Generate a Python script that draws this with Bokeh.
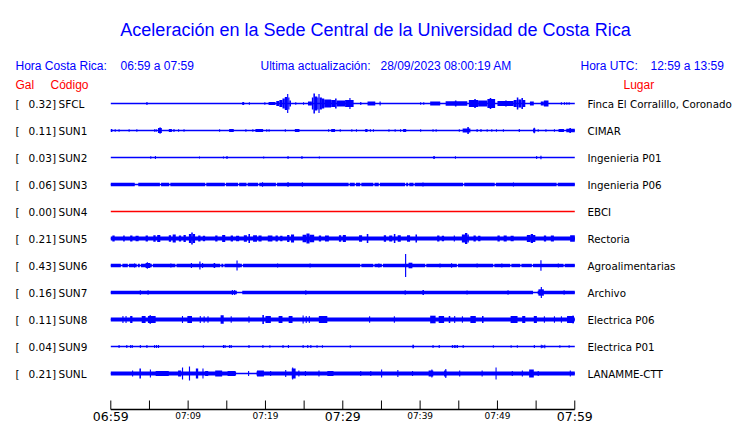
from bokeh.plotting import figure
from bokeh.models import Range1d
from bokeh.core.properties import value
from bokeh.embed import file_html
from bokeh.resources import INLINE

# ---------------- data ----------------
stations = ["SFCL", "SUN1", "SUN2", "SUN3", "SUN4", "SUN5", "SUN6", "SUN7", "SUN8", "SUN9", "SUNL"]
peak_gal = [0.32, 0.11, 0.03, 0.06, 0.00, 0.21, 0.43, 0.16, 0.11, 0.04, 0.21]
places = ["Finca El Corralillo, Coronado", "CIMAR", "Ingenieria P01", "Ingenieria P06", "EBCI",
          "Rectoria", "Agroalimentarias", "Archivo", "Electrica P06", "Electrica P01", "LANAMME-CTT"]
# background envelope half-amplitude of each trace (relative units)
base_half = [0.0, 0.0, 0.0, 1.7, 0.0, 2.0, 1.7, 1.7, 2.0, 0.0, 2.0]
trace_active = [True, True, True, True, False, True, True, True, True, True, True]

# events: (start minute, end minute, envelope half-amplitude) -- minutes after 06:59
ev_SFCL = [(4.6, 4.75, 1.5), (17.0, 17.25, 1.5), (17.85, 17.95, 1.2), (19.85, 19.95, 1.2), (20.4, 21.3, 1.5),
           (21.4, 21.8, 2.5), (21.8, 22.2, 3.5), (22.2, 22.5, 5), (22.5, 22.8, 6.5), (22.8, 22.95, 9.5),
           (22.95, 23.1, 6), (23.1, 23.3, 3), (23.85, 23.95, 1.2), (24.85, 24.95, 1.2), (25.5, 26.0, 2),
           (26.0, 26.2, 6), (26.2, 26.4, 10), (26.4, 26.7, 7), (26.7, 26.85, 6), (26.85, 27.0, 9.5),
           (27.0, 27.3, 6), (27.3, 27.6, 5), (27.6, 28.5, 4), (28.5, 29.0, 3.5), (29.0, 29.2, 5),
           (29.2, 30.3, 3), (30.3, 31.4, 3.5), (30.85, 31.0, 5.5), (32.25, 32.4, 1.5), (33.2, 34.2, 2),
           (34.75, 34.9, 2), (40.0, 40.1, 1.2), (40.4, 40.5, 1.2), (41.3, 42.6, 2), (43.3, 46.1, 2.2),
           (44.5, 44.7, 3), (46.3, 47.5, 3.5), (47.0, 47.2, 4.5), (47.5, 48.7, 3), (48.7, 49.7, 4.5),
           (49.0, 49.2, 5.5), (50.0, 52.1, 2.5), (51.0, 51.2, 3), (52.1, 52.5, 3.5), (52.5, 52.7, 6),
           (52.7, 53.1, 4), (53.1, 53.3, 5.5), (53.3, 53.6, 3.5), (54.2, 54.7, 2), (55.6, 56.0, 2),
           (56.0, 56.6, 3), (58.2, 58.3, 1.2), (58.6, 58.7, 1.2), (58.9, 59.0, 1.2), (59.2, 59.3, 1.2)]
ev_SUN1 = [(0.0, 0.2, 1.5), (0.5, 0.6, 1.3), (1.0, 1.1, 1.3), (2.3, 2.4, 1.2), (3.3, 3.4, 1.2), (5.6, 5.7, 1.3),
           (5.8, 5.9, 1.3), (6.1, 6.6, 2.5), (6.3, 6.45, 3.2), (7.5, 7.9, 1.5), (8.1, 8.2, 1.5), (8.7, 8.8, 1.3),
           (9.4, 9.5, 1.3), (14.0, 14.1, 1.2), (15.3, 15.9, 1.6), (17.4, 17.5, 1.2), (18.3, 18.4, 1.2),
           (18.7, 19.7, 1.6), (20.1, 20.2, 1.3), (20.4, 20.5, 1.3), (22.5, 22.6, 1.3), (23.8, 24.4, 1.6),
           (28.1, 28.2, 1.2), (28.5, 29.0, 1.6), (29.6, 29.7, 1.2), (31.1, 31.2, 1.2), (31.7, 31.8, 1.2),
           (32.9, 33.2, 1.5), (33.5, 33.6, 1.3), (33.9, 34.0, 1.3), (35.9, 36.0, 1.2), (36.7, 36.8, 1.2),
           (37.4, 37.5, 1.3), (37.8, 38.2, 1.5), (40.0, 40.1, 1.3), (41.6, 41.7, 1.2), (42.0, 42.1, 1.2),
           (45.0, 45.1, 1.3), (45.5, 46.5, 2), (46.1, 46.3, 3.5), (47.3, 47.4, 1.5), (47.8, 47.9, 1.5),
           (48.6, 48.7, 1.3), (49.2, 49.3, 1.3), (49.8, 49.9, 1.3), (50.7, 50.8, 1.3), (52.75, 52.9, 1.6),
           (54.6, 54.9, 2), (54.7, 54.8, 2.8), (55.2, 55.3, 1.3), (56.2, 56.3, 1.3), (57.3, 57.4, 1.3),
           (57.9, 58.6, 1.5), (58.9, 60.0, 1.7), (59.3, 59.5, 2.5)]
ev_SUN2 = [(5.1, 5.2, 1.2), (5.7, 5.8, 1.6), (11.4, 11.5, 1.1), (14.5, 14.6, 1.1), (14.95, 15.1, 1.6),
           (19.7, 19.8, 1.1), (22.85, 22.95, 1.6), (24.65, 24.75, 1.6), (26.9, 27.0, 1.1), (41.7, 41.9, 1.6),
           (44.5, 44.6, 1.2), (55.0, 55.1, 1.5), (55.55, 55.7, 1.8)]
ev_SUN3 = [(19.55, 19.65, 2.3), (22.85, 22.95, 2.4), (24.7, 24.8, 2.2), (40.3, 40.4, 2.1), (52.0, 52.1, 2.1)]
ev_SUN4 = []
ev_SUN5 = [(0.2, 0.5, 3), (1.6, 1.8, 3), (2.5, 2.8, 3), (3.2, 3.6, 2.8), (4.5, 4.8, 3), (5.5, 5.8, 3.2),
           (6.0, 6.4, 3.5), (7.5, 7.8, 3.2), (8.0, 8.4, 4), (8.8, 9.1, 3), (9.4, 9.7, 3.5), (10.1, 10.4, 4.5),
           (10.4, 10.6, 6), (10.6, 10.9, 4.5), (11.3, 11.6, 3), (11.9, 12.2, 2.8), (13.5, 13.8, 3),
           (14.4, 14.8, 3.5), (15.5, 15.8, 3), (16.2, 16.6, 2.8), (17.2, 17.6, 3.2), (17.8, 18.0, 4.5),
           (18.4, 18.9, 3.2), (19.1, 19.5, 3), (20.3, 20.9, 3), (21.3, 21.6, 3), (21.9, 22.2, 2.8),
           (22.8, 23.1, 3.5), (23.3, 23.7, 4), (24.8, 25.3, 3.8), (25.3, 25.7, 5), (25.7, 26.3, 3.8),
           (26.9, 27.2, 3), (27.7, 28.2, 3), (29.5, 29.8, 3.2), (30.0, 30.4, 3.5), (32.1, 32.5, 3.2),
           (33.1, 33.3, 4.5), (35.3, 35.6, 3.2), (36.0, 36.4, 3), (36.6, 36.8, 4.5), (37.1, 37.5, 3.2),
           (38.3, 38.7, 3.2), (39.4, 39.6, 4), (42.2, 42.5, 3), (42.8, 43.1, 2.8), (44.35, 44.5, 3),
           (45.4, 45.8, 4), (45.8, 46.1, 5.5), (46.1, 46.3, 4), (46.9, 47.2, 3), (47.5, 47.8, 2.8),
           (50.0, 50.3, 3), (50.8, 51.2, 3), (51.7, 52.1, 2.8), (53.8, 54.3, 3.5), (54.3, 54.6, 4.5),
           (54.6, 54.9, 3.5), (56.0, 56.3, 3), (56.9, 57.3, 3), (59.4, 60.0, 3.2)]
ev_SUN6 = [(3.0, 3.1, 2), (4.5, 5.1, 2.5), (4.65, 4.8, 3.2), (7.7, 7.8, 2), (10.35, 10.5, 2.5),
           (11.45, 11.6, 4), (11.8, 11.9, 2.5), (13.3, 13.5, 2.5), (16.25, 16.4, 5), (16.5, 16.6, 2),
           (21.5, 21.6, 2), (25.7, 25.8, 2), (34.6, 34.7, 2), (38.05, 38.2, 11.5), (38.5, 39.0, 2.8),
           (42.5, 42.6, 2), (44.0, 44.1, 2.2), (47.3, 47.4, 2), (50.5, 50.6, 2), (55.55, 55.7, 5.3),
           (57.8, 57.9, 2)]
ev_SUN7 = [(3.75, 3.85, 2.3), (4.75, 4.85, 2.3), (15.65, 15.75, 2.6), (15.95, 16.05, 2.4), (25.15, 25.25, 2.2),
           (38.0, 38.1, 2.3), (40.3, 40.5, 2.6), (46.0, 46.1, 2.1), (51.3, 51.4, 2.2), (55.3, 56.0, 3.2),
           (55.6, 55.75, 5.5), (58.55, 58.65, 2.2)]
ev_SUN8 = [(1.5, 1.6, 3.5), (1.9, 2.0, 3.5), (2.5, 2.8, 3.5), (4.0, 4.5, 3.5), (4.8, 5.8, 3.5), (5.0, 5.2, 4.2),
           (9.2, 9.3, 3.5), (9.9, 10.5, 3.5), (11.5, 11.6, 3.5), (12.0, 12.1, 3.2), (12.5, 12.6, 3.2),
           (14.2, 14.6, 4.2), (15.5, 15.6, 3.2), (17.8, 17.9, 3.2), (19.6, 19.8, 4.5), (20.0, 20.7, 3.5),
           (21.7, 22.2, 3.5), (23.0, 23.5, 3.5), (24.8, 24.9, 4), (25.2, 25.3, 3.5), (25.6, 25.7, 3.5),
           (26.9, 28.0, 3.5), (33.4, 33.5, 3.2), (36.6, 36.7, 3.2), (41.3, 42.0, 3.8), (42.4, 43.1, 3.5),
           (43.7, 43.9, 3.5), (44.4, 44.5, 3.5), (45.4, 45.5, 3.2), (46.5, 47.2, 3.5), (48.0, 48.2, 3.5),
           (51.7, 52.6, 3.5), (53.2, 53.6, 3.5), (54.7, 55.1, 3.5), (56.0, 56.1, 3.2), (57.3, 57.4, 3.2),
           (58.2, 58.3, 3.2), (59.0, 59.9, 3.5), (59.7, 59.85, 4)]
ev_SUN9 = [(1.0, 1.1, 1.5), (2.0, 2.1, 1.5), (2.5, 2.6, 1.5), (2.7, 2.8, 1.5), (3.75, 3.85, 1.5), (4.6, 4.7, 1.5),
           (5.6, 5.7, 1.5), (5.85, 5.95, 1.5), (6.1, 6.2, 1.5), (11.9, 12.0, 1.3), (14.5, 14.6, 1.5),
           (14.7, 14.8, 1.5), (15.3, 15.4, 1.5), (15.5, 15.6, 1.5), (17.8, 17.9, 1.4), (19.6, 19.7, 1.4),
           (20.5, 20.6, 1.3), (22.2, 22.3, 1.5), (22.9, 23.0, 1.5), (24.8, 24.9, 1.5), (25.4, 25.5, 1.5),
           (25.8, 25.9, 1.4), (26.6, 26.7, 1.3), (27.3, 27.4, 1.3), (30.9, 31.0, 1.3), (39.0, 39.2, 1.8),
           (41.6, 41.7, 1.5), (42.4, 42.5, 1.5), (44.1, 44.2, 1.4), (44.35, 44.45, 1.5), (44.55, 44.65, 1.4),
           (44.75, 44.85, 1.5), (45.5, 45.6, 1.4), (49.4, 49.5, 1.3), (51.7, 51.8, 1.3), (52.5, 52.6, 1.3),
           (54.7, 54.8, 1.4), (55.6, 55.7, 1.8), (55.8, 55.9, 1.5), (56.05, 56.15, 1.8), (58.0, 58.1, 1.3),
           (59.2, 59.3, 1.3)]
ev_SUNL = [(2.75, 2.85, 3), (3.7, 3.9, 5), (5.05, 5.15, 4), (5.8, 7.5, 2.5), (8.7, 9.1, 3), (9.2, 9.35, 6),
           (10.1, 10.25, 7), (11.0, 11.3, 5), (11.85, 11.95, 5), (12.2, 12.6, 2.5), (13.5, 14.4, 3),
           (15.1, 16.1, 2.5), (17.75, 17.85, 2.5), (18.9, 19.8, 3), (20.6, 20.7, 2.5), (22.55, 22.65, 3.5),
           (23.4, 23.9, 5), (23.45, 23.55, 6), (24.25, 24.35, 3), (25.1, 25.2, 2.5), (26.85, 26.95, 3),
           (28.0, 28.8, 2.5), (32.25, 32.35, 2.5), (33.55, 33.65, 2.5), (34.95, 35.05, 4), (37.05, 37.15, 3.5),
           (38.95, 39.05, 2.5), (41.1, 41.7, 3), (41.45, 41.55, 4), (43.1, 43.4, 3), (43.25, 43.35, 4.5),
           (45.05, 45.15, 3), (47.95, 48.05, 3), (49.75, 49.85, 6), (51.85, 51.95, 2.5), (53.15, 53.25, 3),
           (54.1, 54.7, 4), (55.2, 55.3, 2.5), (59.35, 59.45, 3)]
events = [ev_SFCL, ev_SUN1, ev_SUN2, ev_SUN3, ev_SUN4, ev_SUN5, ev_SUN6, ev_SUN7, ev_SUN8, ev_SUN9, ev_SUNL]

# stretches (minutes) where the background envelope drops to a thin line
gap_SUN3 = [(3.1, 3.55), (6.35, 6.5), (7.55, 7.7), (12.2, 12.35), (14.75, 14.9), (16.45, 16.6), (17.55, 17.7),
            (19.05, 19.2), (21.35, 21.5), (30.75, 30.9), (31.55, 31.7), (32.25, 32.4), (33.95, 34.1),
            (34.65, 34.8), (38.05, 38.2), (38.45, 38.6), (39.15, 39.3), (45.55, 45.7), (49.65, 49.8),
            (57.65, 57.8)]
gap_SUN6 = [(1.3, 1.5), (2.2, 2.35), (3.35, 3.5), (3.75, 3.9), (5.3, 5.45), (8.35, 8.5), (14.15, 14.3),
            (14.55, 14.7), (16.95, 17.1), (32.25, 32.4), (33.95, 34.1), (35.05, 35.2), (40.65, 40.8),
            (44.75, 44.9), (49.45, 49.6), (51.65, 51.8), (52.95, 53.1), (54.45, 54.6), (58.55, 58.7)]
gap_SUN7 = [(16.3, 17.0), (54.6, 55.2)]
gap_SUNL = [(16.2, 18.85)]
gaps = [[], [], [], gap_SUN3, [], [], gap_SUN6, gap_SUN7, [], [], gap_SUNL]

window_minutes = [0, 60]
tick_minutes = [0, 5, 10, 15, 20, 25, 30, 35, 40, 45, 50, 55, 60]
label_minutes = [0, 10, 20, 30, 40, 50, 60]
tick_labels = ["06:59", "07:09", "07:19", "07:29", "07:39", "07:49", "07:59"]
label_major = [True, False, False, True, False, False, True]

# ---------------- layout ----------------
W, H = 740, 423
X0_PAGE, PX_PER_MIN = 110.3, 7.733
Y0_PAGE, PX_PER_ROW = 103.0, 27.0


def mx(xpage):
    return (xpage - X0_PAGE) / PX_PER_MIN


def ry(ypage):
    return (ypage - Y0_PAGE) / PX_PER_ROW


AMP = 1.0 / PX_PER_ROW
BLUE = "#0000ff"
RED = "#ff0000"

p = figure(width=W, height=H, output_backend="svg", toolbar_location=None,
           x_range=Range1d(mx(0), mx(W)), y_range=Range1d(ry(H), ry(0)),
           x_axis_type=None, y_axis_type=None, min_border=0,
           min_border_left=0, min_border_right=0, min_border_top=0, min_border_bottom=0)
p.grid.visible = False
p.outline_line_color = None
p.background_fill_color = "white"
p.border_fill_color = "white"

t0, t1 = window_minutes
rows = list(range(len(stations)))

# baseline of each trace
p.segment(x0=[t0] * len(rows), x1=[t1] * len(rows), y0=rows, y1=rows,
          line_color=[BLUE if a else RED for a in trace_active], line_width=1.3)

# background envelope (minus gaps) and events
L, R, T, B = [], [], [], []
for r in rows:
    bh = base_half[r]
    if bh > 0:
        cur = t0
        for g0, g1 in sorted(gaps[r]):
            if g0 > cur:
                L.append(cur); R.append(g0); T.append(r - bh * AMP); B.append(r + bh * AMP)
            cur = max(cur, g1)
        if cur < t1:
            L.append(cur); R.append(t1); T.append(r - bh * AMP); B.append(r + bh * AMP)
    for s, e, a in events[r]:
        e = max(e, s + 0.14)
        L.append(s); R.append(min(e, t1)); T.append(r - a * AMP); B.append(r + a * AMP)
p.quad(left=L, right=R, top=T, bottom=B, fill_color=BLUE, line_color=None)

# row labels
FONT_ROW = value("DejaVu Sans")
n = len(rows)
p.text(x=[mx(15)] * n, y=rows, text=["["] * n, text_font=FONT_ROW,
       text_font_size="10.5px", text_color="black", text_baseline="middle", text_align="left")
p.text(x=[mx(55.5)] * n, y=rows, text=["%.2f]" % g for g in peak_gal], text_font=FONT_ROW,
       text_font_size="10.5px", text_color="black", text_baseline="middle", text_align="right")
p.text(x=[mx(58)] * n, y=rows, text=stations, text_font=FONT_ROW,
       text_font_size="10.5px", text_color="black", text_baseline="middle", text_align="left")
p.text(x=[mx(587)] * n, y=rows, text=places, text_font=FONT_ROW,
       text_font_size="10.3px", text_color="black", text_baseline="middle", text_align="left")

# title and header
p.text(x=[mx(375)], y=[ry(29.5)], text=["Aceleración en la Sede Central de la Universidad de Costa Rica"],
       text_font=value("Liberation Sans"), text_font_size="18px", text_color=BLUE,
       text_align="center", text_baseline="alphabetic")
hdr_x = [15, 120, 260, 380, 580, 650]
hdr_t = ["Hora Costa Rica:", "06:59 a 07:59", "Ultima actualización:", "28/09/2023 08:00:19 AM",
         "Hora UTC:", "12:59 a 13:59"]
p.text(x=[mx(v) for v in hdr_x], y=[ry(65)] * len(hdr_x), text=hdr_t, text_font=value("Liberation Sans"),
       text_font_size="12px", text_color=BLUE, text_align="left", text_baseline="alphabetic")
p.text(x=[mx(15), mx(50), mx(623)], y=[ry(84.5)] * 3, text=["Gal", "Código", "Lugar"],
       text_font=value("Liberation Sans"), text_font_size="12px", text_color=RED,
       text_align="left", text_baseline="alphabetic")

# time axis
AXIS_ROW = ry(409)
tick_len = 9 * AMP
p.segment(x0=[t0], x1=[t1], y0=[AXIS_ROW], y1=[AXIS_ROW], line_color="black", line_width=1.3)
p.segment(x0=tick_minutes, x1=tick_minutes, y0=[AXIS_ROW] * len(tick_minutes),
          y1=[AXIS_ROW - tick_len] * len(tick_minutes), line_color="black", line_width=1)
big_x = [m for m, b in zip(label_minutes, label_major) if b]
big_t = [t for t, b in zip(tick_labels, label_major) if b]
sm_x = [m for m, b in zip(label_minutes, label_major) if not b]
sm_t = [t for t, b in zip(tick_labels, label_major) if not b]
p.text(x=big_x, y=[ry(415.8)] * len(big_x), text=big_t, text_font=value("DejaVu Sans"),
       text_font_size="12.5px", text_color="black", text_align="center", text_baseline="middle")
p.text(x=sm_x, y=[ry(415.3)] * len(sm_x), text=sm_t, text_font=value("DejaVu Sans"),
       text_font_size="9px", text_color="black", text_align="center", text_baseline="middle")

open("out.html", "w").write(file_html(p, INLINE))
